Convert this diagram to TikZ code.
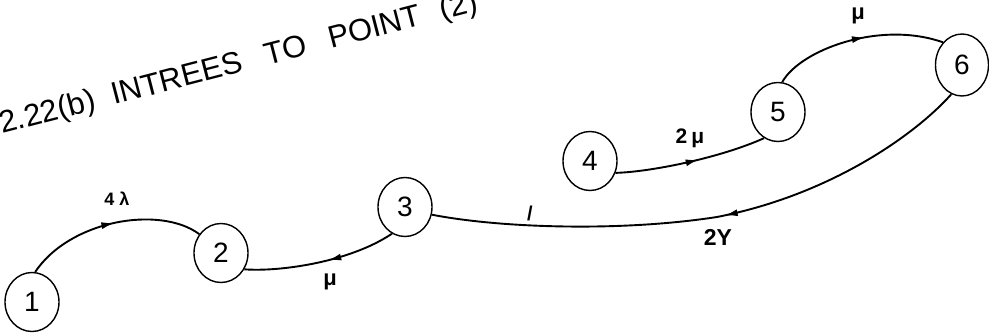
\documentclass[tikz,border=0pt]{standalone}
\usepackage{fontspec}
\setmainfont{Liberation Sans}
\usetikzlibrary{shapes.geometric,decorations.markings,arrows.meta}
\tikzset{
  state/.style={draw, ellipse, line width=1.4pt, minimum width=54pt, minimum height=59pt, inner sep=0pt, font=\fontsize{28}{32}\selectfont},
  edge/.style={line width=1.9pt},
  fwd/.style={postaction={decorate}, decoration={markings, mark=at position #1 with {\arrow{Latex[length=13pt,width=7pt]}}}},
  bwd/.style={postaction={decorate}, decoration={markings, mark=at position #1 with {\arrowreversed{Latex[length=13pt,width=7pt]}}}},
  lbl/.style={font=\bfseries\fontsize{20}{22}\selectfont, inner sep=0pt},
  title/.style={font=\fontsize{31}{34}\selectfont, inner sep=0pt, anchor=base west, rotate=14.5}
}
\begin{document}
\begin{tikzpicture}[x=1pt,y=-1pt]
\useasboundingbox (0,0) rectangle (989,334);
\node[title] (t) at (2,134) {2.22(b)\hspace{9pt} INTREES\hspace{15pt} TO\hspace{15pt} POINT\hspace{12pt} (2)};
\node[state] (n1) at (32,302) {1};
\node[state] (n2) at (221,253) {2};
\node[state] (n3) at (405,207) {3};
\node[state] (n4) at (590,161) {4};
\node[state] (n5) at (778,112) {5};
\node[state, minimum width=53pt, minimum height=62pt] (n6) at (962,65) {6};
% edges
\draw[edge, fwd=0.52] (n1.84) .. controls (70,220) and (160,205) .. (n2.139);
\draw[edge, bwd=0.55] (n2.-35) .. controls (280,272) and (350,262) .. (n3.-116);
\coordinate (m36) at (717,217);
\draw[edge, bwd=0.53] (n3.-16) .. controls (500,228) and (620,232) .. (m36) .. controls (830,195) and (915,135) .. (n6.-110);
\draw[edge, fwd=0.55] (n4.-25) .. controls (650,172) and (720,158) .. (n5.-118);
\draw[edge, fwd=0.55] (n5.82) .. controls (800,50) and (880,20) .. (n6.130);
% labels
\node[lbl, font=\bfseries\fontsize{18}{20}\selectfont] (l12) at (117,199) {4\hspace{5pt}λ};
\node[lbl, font=\bfseries\fontsize{22}{24}\selectfont] (l23) at (330,282) {μ};
\node[lbl] (l36a) at (530,213) {/};
\node[lbl, font=\bfseries\fontsize{23}{26}\selectfont] (l36b) at (718,237) {2Y};
\node[lbl, font=\bfseries\fontsize{21}{24}\selectfont] (l45) at (690,138) {2\hspace{4pt}μ};
\node[lbl, font=\bfseries\fontsize{22}{24}\selectfont] (l56) at (858,16) {μ};
\end{tikzpicture}
\end{document}
